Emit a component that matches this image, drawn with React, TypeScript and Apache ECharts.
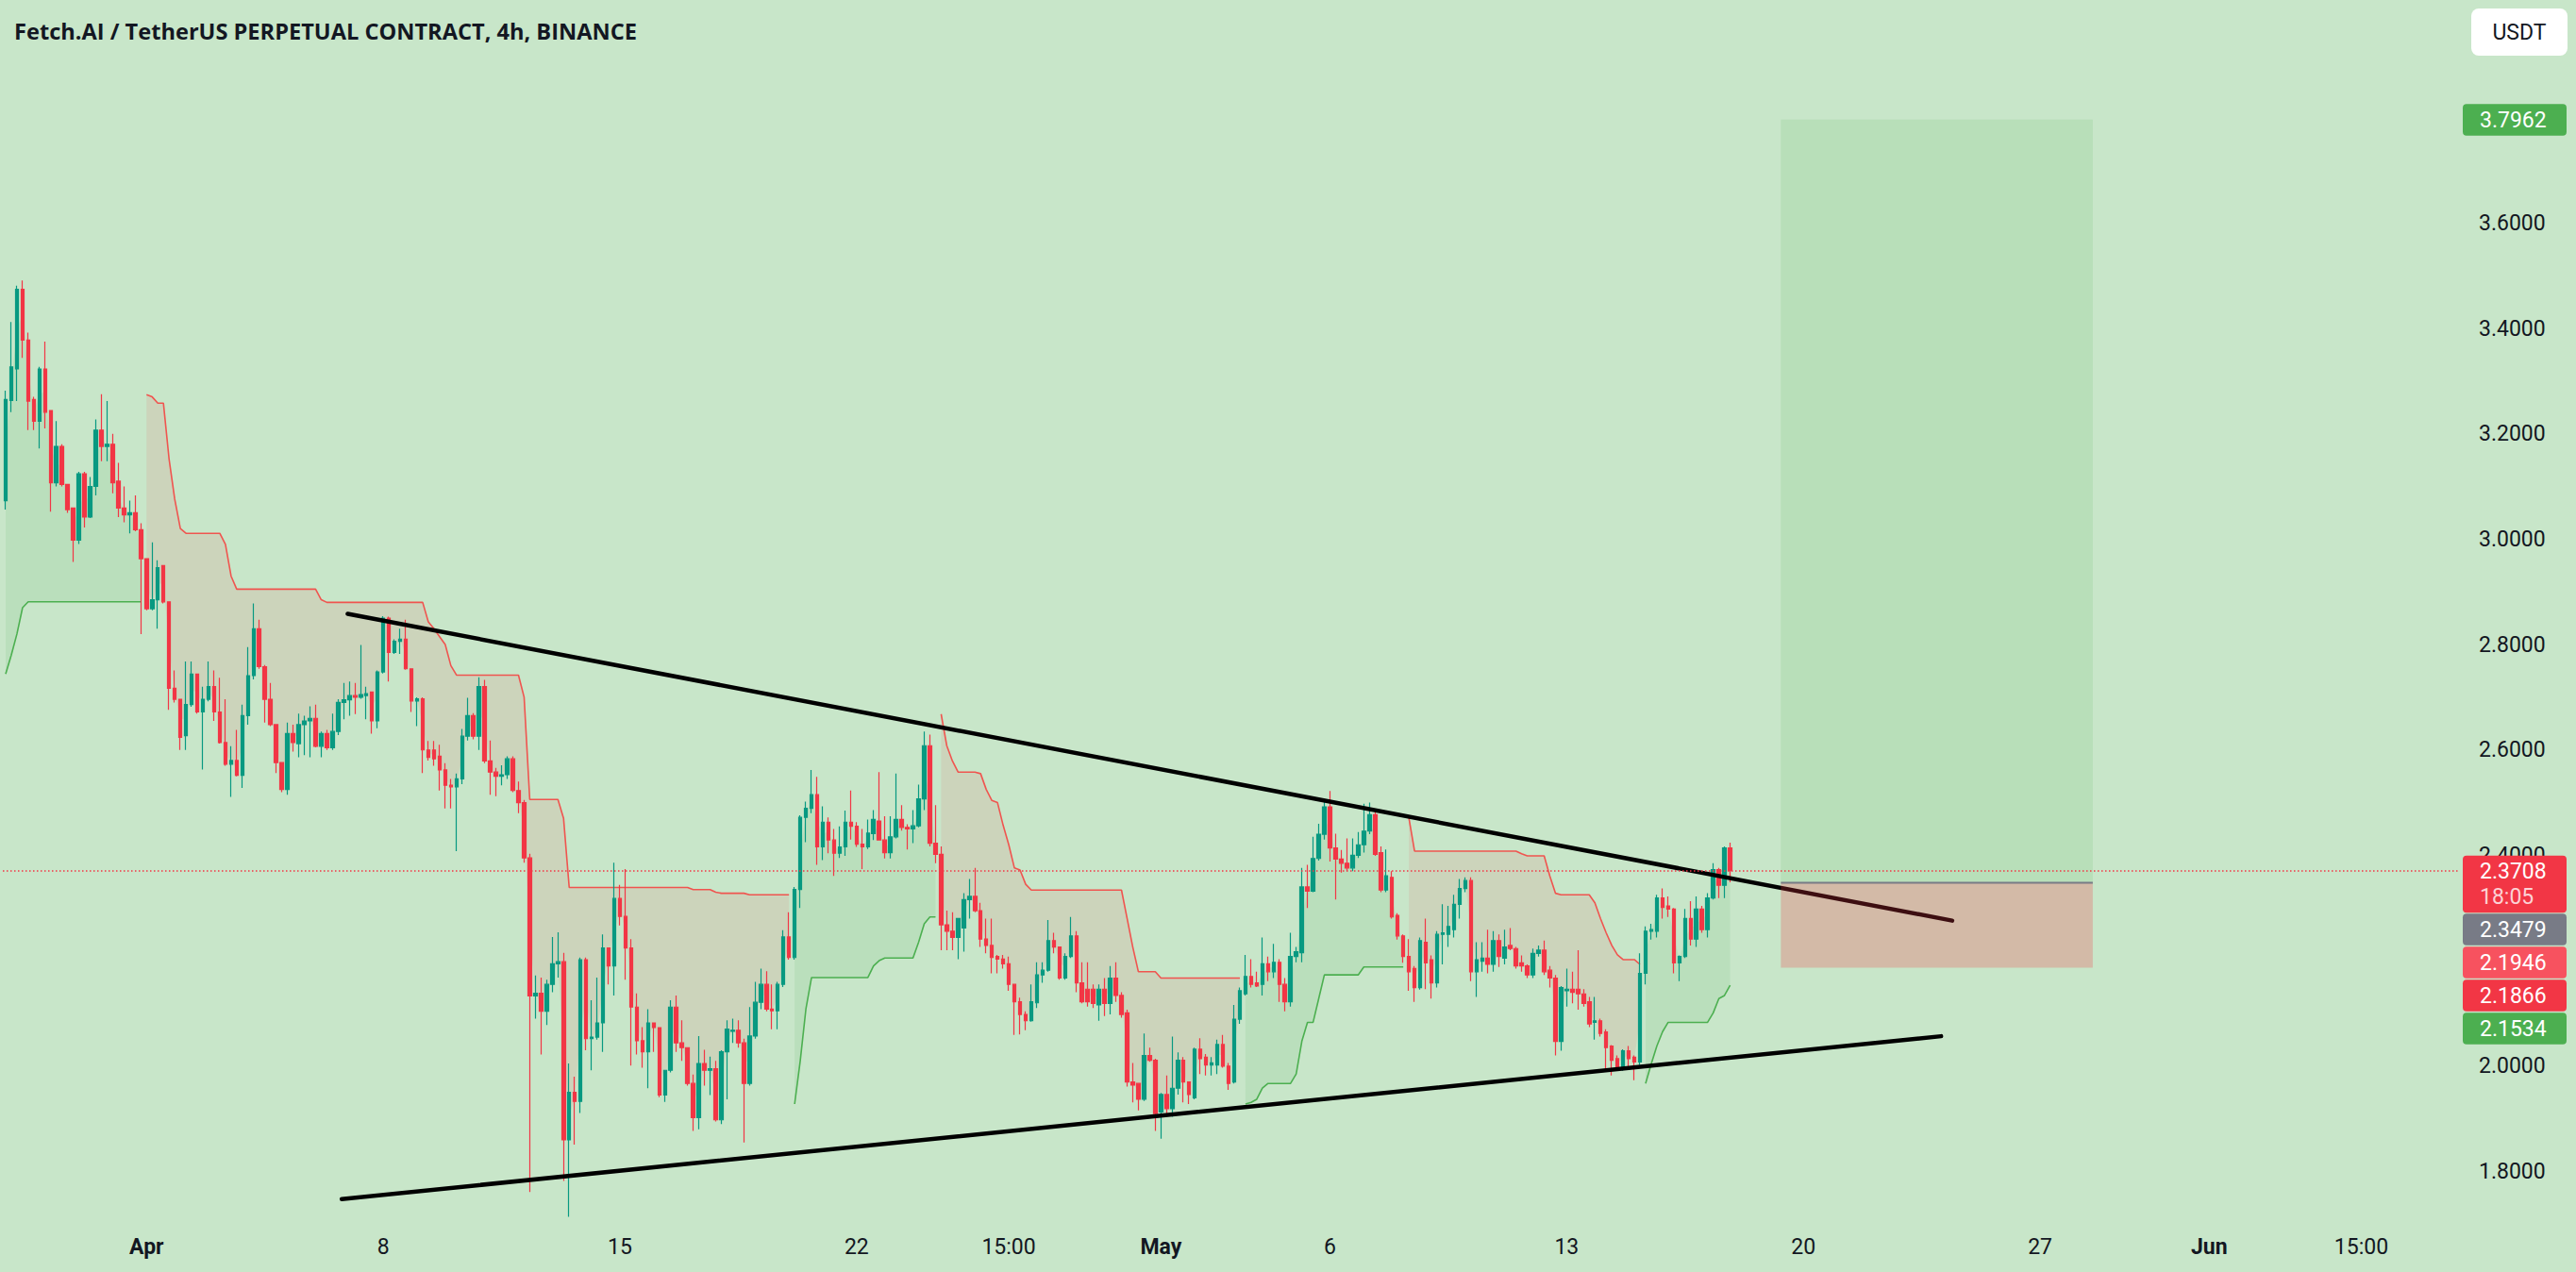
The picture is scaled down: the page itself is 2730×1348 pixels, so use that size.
import React, { useEffect, useRef } from "react";
import * as echarts from "echarts";

const TITLE = "Fetch.AI / TetherUS PERPETUAL CONTRACT, 4h, BINANCE";
const QUOTE = "USDT";

// 4h bars as [open, high, low, close]; bar 0 = Mar 27 23:00, bar 25 = Apr 1 03:00
const candles: number[][] = [
  [3.073,3.282,3.056,3.265],[3.263,3.412,3.241,3.327],[3.323,3.481,3.262,3.474],[3.474,3.491,3.344,3.378],
  [3.378,3.392,3.207,3.262],[3.265,3.270,3.207,3.224],[3.224,3.327,3.172,3.323],[3.323,3.375,3.210,3.241],
  [3.244,3.244,3.052,3.107],[3.107,3.224,3.100,3.176],[3.176,3.180,3.100,3.104],[3.104,3.105,3.050,3.056],
  [3.059,3.060,2.957,2.998],[2.998,3.128,2.991,3.124],[3.124,3.128,3.022,3.042],[3.042,3.118,3.040,3.100],
  [3.100,3.227,3.083,3.207],[3.207,3.275,3.148,3.176],[3.176,3.262,3.148,3.180],[3.180,3.200,3.087,3.107],
  [3.110,3.145,3.042,3.059],[3.059,3.100,3.032,3.046],[3.046,3.073,3.011,3.050],[3.050,3.083,3.015,3.018],
  [3.018,3.030,2.820,2.963],[2.963,2.963,2.865,2.868],[2.868,2.994,2.865,2.885],[2.885,2.960,2.830,2.946],
  [2.950,2.950,2.878,2.881],[2.881,2.881,2.676,2.717],[2.717,2.751,2.690,2.696],[2.696,2.696,2.600,2.624],
  [2.627,2.768,2.600,2.686],[2.686,2.768,2.682,2.744],[2.744,2.744,2.669,2.672],[2.672,2.720,2.563,2.696],
  [2.696,2.768,2.692,2.720],[2.720,2.751,2.655,2.672],[2.672,2.737,2.612,2.614],[2.614,2.696,2.570,2.573],
  [2.573,2.607,2.511,2.580],[2.580,2.638,2.550,2.552],[2.552,2.686,2.528,2.665],[2.665,2.795,2.648,2.741],
  [2.741,2.878,2.734,2.830],[2.830,2.847,2.754,2.758],[2.758,2.761,2.652,2.696],[2.696,2.727,2.645,2.648],
  [2.648,2.648,2.556,2.576],[2.576,2.576,2.520,2.525],[2.525,2.652,2.515,2.631],[2.631,2.648,2.597,2.614],
  [2.612,2.669,2.586,2.648],[2.648,2.665,2.590,2.655],[2.655,2.683,2.586,2.660],[2.660,2.686,2.605,2.607],
  [2.607,2.635,2.586,2.631],[2.631,2.638,2.600,2.604],[2.604,2.669,2.600,2.635],[2.635,2.696,2.628,2.690],
  [2.690,2.727,2.658,2.695],[2.695,2.730,2.665,2.703],[2.703,2.727,2.668,2.700],[2.700,2.799,2.697,2.705],
  [2.703,2.720,2.658,2.707],[2.710,2.710,2.631,2.655],[2.655,2.751,2.641,2.748],[2.748,2.854,2.745,2.850],
  [2.850,2.853,2.730,2.785],[2.785,2.810,2.782,2.806],[2.806,2.830,2.782,2.810],[2.810,2.847,2.752,2.754],
  [2.754,2.754,2.672,2.693],[2.693,2.700,2.645,2.697],[2.697,2.700,2.556,2.600],[2.600,2.617,2.580,2.586],
  [2.600,2.617,2.570,2.583],[2.588,2.610,2.523,2.562],
  // 78 -
  [2.562,2.575,2.489,2.533],[2.533,2.545,2.489,2.530],[2.530,2.555,2.408,2.545],[2.545,2.640,2.535,2.626],
  [2.626,2.699,2.618,2.665],[2.665,2.670,2.620,2.626],[2.626,2.738,2.600,2.720],[2.720,2.733,2.575,2.579],
  [2.579,2.618,2.515,2.558],[2.558,2.566,2.512,2.550],[2.550,2.571,2.533,2.553],[2.553,2.588,2.545,2.583],
  [2.583,2.588,2.520,2.523],[2.523,2.540,2.480,2.500],[2.500,2.505,2.386,2.395],[2.395,2.403,1.761,2.133],
  [2.133,2.172,2.090,2.138],[2.138,2.168,2.022,2.104],[2.104,2.164,2.078,2.155],[2.155,2.245,2.140,2.194],
  [2.194,2.254,2.168,2.198],[2.198,2.215,1.782,1.860],[1.860,2.005,1.714,1.950],[1.950,1.980,1.851,1.933],
  [1.933,2.206,1.911,2.202],[2.202,2.206,2.030,2.052],[2.052,2.125,1.992,2.055],[2.055,2.168,2.050,2.082],
  [2.082,2.250,2.027,2.224],[2.224,2.224,2.155,2.190],[2.190,2.386,2.134,2.318],[2.318,2.344,2.267,2.284],
  [2.284,2.374,2.164,2.224],[2.224,2.241,2.001,2.112],[2.112,2.138,2.022,2.048],[2.048,2.074,1.997,2.027],
  [2.027,2.108,1.958,2.082],[2.082,2.082,2.027,2.073],[2.073,2.073,1.941,1.945],[1.945,1.992,1.932,1.992],
  [1.992,2.125,1.988,2.112],[2.112,2.134,2.027,2.044],[2.044,2.087,2.010,2.035],[2.035,2.035,1.963,1.967],
  [1.967,1.984,1.877,1.902],[1.902,2.057,1.880,2.005],[2.005,2.031,1.963,1.992],[1.992,2.018,1.945,1.995],
  [1.995,2.010,1.895,1.898],[1.898,2.030,1.890,2.027],[2.027,2.087,1.937,2.070],[2.066,2.090,2.044,2.068],
  [2.068,2.087,2.035,2.044],[2.044,2.052,1.855,1.967],[1.967,2.112,1.963,2.057],[2.057,2.160,2.052,2.121],
  [2.121,2.185,2.108,2.155],[2.155,2.180,2.104,2.108],[2.108,2.155,2.070,2.105],[2.105,2.160,2.070,2.155],
  [2.155,2.258,2.150,2.245],[2.245,2.292,2.202,2.206],[2.206,2.340,2.202,2.335],[2.335,2.476,2.300,2.472],
  [2.472,2.502,2.425,2.489],[2.489,2.562,2.480,2.515],[2.515,2.549,2.382,2.416],[2.416,2.493,2.391,2.463],
  [2.463,2.472,2.404,2.429],[2.429,2.450,2.361,2.404],[2.404,2.455,2.395,2.416],[2.416,2.485,2.399,2.463],
  [2.463,2.523,2.430,2.455],[2.455,2.463,2.416,2.421],[2.421,2.450,2.374,2.416],[2.416,2.468,2.412,2.442],
  [2.441,2.486,2.429,2.468],
  // 155 -
  [2.465,2.558,2.429,2.429],[2.429,2.474,2.394,2.405],[2.405,2.474,2.394,2.435],[2.435,2.555,2.432,2.468],
  [2.468,2.495,2.447,2.453],[2.453,2.459,2.411,2.450],[2.450,2.486,2.423,2.456],[2.456,2.534,2.453,2.507],
  [2.507,2.635,2.486,2.608],[2.608,2.629,2.417,2.423],[2.423,2.495,2.385,2.402],[2.402,2.417,2.220,2.268],
  [2.268,2.295,2.220,2.256],[2.256,2.292,2.220,2.244],[2.244,2.280,2.203,2.280],[2.262,2.328,2.217,2.316],
  [2.316,2.355,2.280,2.322],[2.322,2.376,2.292,2.295],[2.295,2.310,2.226,2.241],[2.241,2.280,2.214,2.229],
  [2.229,2.280,2.176,2.206],[2.208,2.211,2.176,2.203],[2.203,2.211,2.185,2.194],[2.194,2.208,2.143,2.155],
  [2.155,2.155,2.059,2.122],[2.122,2.130,2.060,2.098],[2.098,2.104,2.068,2.086],[2.086,2.155,2.084,2.122],
  [2.120,2.197,2.110,2.173],[2.173,2.197,2.158,2.182],[2.182,2.277,2.179,2.238],[2.238,2.253,2.214,2.226],
  [2.226,2.226,2.164,2.167],[2.167,2.214,2.164,2.208],[2.208,2.283,2.205,2.247],[2.247,2.256,2.140,2.158],
  [2.158,2.197,2.119,2.122],[2.146,2.197,2.113,2.122],[2.146,2.155,2.110,2.119],[2.116,2.155,2.086,2.146],
  [2.146,2.167,2.095,2.119],[2.119,2.190,2.098,2.167],[2.167,2.197,2.122,2.134],[2.134,2.140,2.092,2.098],
  [2.101,2.107,1.961,1.970],[1.970,2.006,1.931,1.964],[1.967,1.967,1.916,1.937],[1.937,2.062,1.934,2.020],
  [2.020,2.035,2.008,2.011],[2.011,2.014,1.877,1.910],[1.913,1.949,1.862,1.946],[1.946,1.982,1.907,1.919],
  [1.919,2.056,1.904,1.958],[1.958,2.026,1.946,2.011],[2.011,2.017,1.931,1.970],[1.970,1.970,1.928,1.946],
  [1.940,2.035,1.937,2.032],[2.032,2.053,1.985,2.014],[2.017,2.023,1.982,2.002],[2.002,2.017,1.982,2.006],
  [2.002,2.050,1.985,2.041],[2.041,2.059,1.997,2.000],[2.000,2.006,1.955,1.967],[1.970,2.116,1.967,2.089],
  [2.089,2.149,2.080,2.143],[2.137,2.211,2.134,2.170],[2.170,2.203,2.149,2.155],[2.158,2.179,2.150,2.152],
  [2.155,2.244,2.134,2.194],[2.194,2.208,2.161,2.179],[2.179,2.232,2.167,2.197],[2.197,2.203,2.122,2.155],
  [2.155,2.167,2.104,2.122],[2.122,2.253,2.113,2.208],[2.208,2.226,2.197,2.217],[2.215,2.376,2.197,2.340],
  // 231 -
  [2.340,2.382,2.300,2.332],[2.332,2.435,2.330,2.394],[2.394,2.460,2.390,2.440],[2.440,2.507,2.430,2.492],
  [2.492,2.522,2.388,2.414],[2.414,2.441,2.316,2.393],[2.393,2.410,2.367,2.385],[2.385,2.432,2.370,2.376],
  [2.376,2.432,2.370,2.400],[2.400,2.444,2.395,2.420],[2.420,2.498,2.405,2.446],[2.446,2.500,2.440,2.477],
  [2.477,2.483,2.399,2.402],[2.405,2.417,2.330,2.334],[2.334,2.411,2.330,2.361],[2.358,2.370,2.280,2.283],
  [2.286,2.290,2.240,2.247],[2.247,2.250,2.196,2.208],[2.208,2.241,2.143,2.179],[2.185,2.190,2.122,2.149],
  [2.149,2.244,2.145,2.238],[2.235,2.280,2.146,2.196],[2.202,2.210,2.128,2.158],[2.158,2.256,2.149,2.250],
  [2.250,2.307,2.193,2.253],[2.250,2.304,2.226,2.265],[2.259,2.325,2.244,2.307],[2.307,2.355,2.280,2.337],
  [2.337,2.358,2.330,2.352],[2.352,2.358,2.161,2.179],[2.179,2.235,2.131,2.202],[2.199,2.235,2.179,2.205],
  [2.205,2.259,2.176,2.193],[2.193,2.256,2.179,2.238],[2.238,2.250,2.188,2.208],[2.205,2.259,2.193,2.226],
  [2.229,2.262,2.220,2.223],[2.223,2.226,2.185,2.190],[2.196,2.210,2.179,2.190],[2.190,2.193,2.167,2.173],
  [2.173,2.223,2.167,2.214],[2.214,2.229,2.208,2.220],[2.220,2.238,2.173,2.179],[2.182,2.190,2.149,2.167],
  [2.167,2.173,2.020,2.047],[2.047,2.152,2.029,2.149],[2.143,2.185,2.113,2.146],[2.146,2.179,2.119,2.140],
  [2.146,2.220,2.107,2.137],[2.137,2.146,2.113,2.119],[2.122,2.131,2.074,2.080],[2.083,2.131,2.050,2.086],
  [2.086,2.090,2.056,2.062],[2.065,2.070,1.994,2.035],[2.038,2.040,1.982,2.011],[2.014,2.020,1.991,1.999],
  [1.999,2.032,1.991,2.029],[2.029,2.038,1.994,2.014],[2.017,2.020,1.973,2.008],[2.008,2.214,2.002,2.176],
  [2.176,2.265,2.155,2.256],[2.256,2.270,2.240,2.259],[2.256,2.325,2.244,2.319],[2.319,2.337,2.280,2.301],
  [2.304,2.322,2.283,2.298],[2.298,2.300,2.176,2.196],[2.196,2.210,2.161,2.208],[2.208,2.298,2.205,2.280],
  [2.280,2.313,2.229,2.241],[2.241,2.322,2.226,2.298],[2.298,2.304,2.253,2.259],[2.259,2.328,2.244,2.319],
  [2.319,2.385,2.316,2.373],[2.373,2.376,2.319,2.343],[2.343,2.417,2.319,2.414],[2.414,2.424,2.349,2.3708],
];

// Supertrend runs: [first bar, values...]
const stUpRuns: [number, number[]][] = [
  [0, [2.744,2.78,2.82,2.87,2.881,2.881,2.881,2.881,2.881,2.881,2.881,2.881,2.881,2.881,2.881,2.881,2.881,2.881,2.881,2.881,2.881,2.881,2.881,2.881,2.881]],
  [140, [1.928,2.010,2.108,2.168,2.168,2.168,2.168,2.168,2.168,2.168,2.168,2.168,2.168,2.168,2.190,2.200,2.205,2.205,2.205,2.205,2.205,2.205,2.235,2.270,2.283,2.283]],
  [220, [1.928,1.931,1.937,1.958,1.967,1.967,1.967,1.967,1.967,1.985,2.047,2.083,2.083,2.128,2.173,2.173,2.173,2.173,2.173,2.173,2.173,2.188,2.188,2.188,2.188,2.188,2.188,2.188,2.188]],
  [291, [1.967,2.004,2.038,2.065,2.083,2.083,2.083,2.083,2.083,2.083,2.083,2.083,2.101,2.128,2.134,2.1534]],
];
const stDownRuns: [number, number[]][] = [
  [25, [3.274,3.270,3.258,3.258,3.152,3.076,3.020,3.011,3.011,3.011,3.011,3.011,3.011,3.011,2.990,2.930,
    2.905,2.905,2.905,2.905,2.905,2.905,2.905,2.905,2.905,2.905,2.905,2.905,2.905,2.905,2.905,2.885,
    2.880,2.880,2.880,2.880,2.880,2.880,2.880,2.880,2.880,2.880,2.880,2.880,2.880,2.880,2.880,2.880,2.880,2.880,
    2.843,2.830,2.815,2.800,2.760,2.742,2.742,2.742,2.742,2.742,2.742,2.742,2.742,2.742,2.742,2.742,2.742,
    2.700,2.506,2.506,2.506,2.506,2.506,2.506,2.470,
    2.339,2.339,2.339,2.339,2.339,2.339,2.339,2.339,2.339,2.339,2.339,2.339,2.339,2.339,2.339,2.339,2.339,2.339,2.339,2.339,2.339,2.339,
    2.335,2.335,2.335,2.335,2.330,2.328,2.328,2.328,2.328,2.328,2.325,2.325,2.325,2.325,2.325,2.325,2.325,2.325]],
  [166, [2.668,2.608,2.579,2.558,2.558,2.558,2.558,2.555,2.525,2.504,2.500,2.457,2.420,2.376,2.372,2.345,
    2.334,2.334,2.334,2.334,2.334,2.334,2.334,2.334,2.334,2.334,2.334,2.334,2.334,2.334,2.334,2.334,2.334,
    2.280,2.226,2.179,2.179,2.179,2.179,2.167,2.167,2.167,2.167,2.167,2.167,2.167,2.167,2.167,2.167,2.167,2.167,2.167,2.167,2.167]],
  [249, [2.471,2.408,2.408,2.408,2.408,2.408,2.408,2.408,2.408,2.408,2.408,2.408,2.408,2.408,2.408,2.408,2.408,2.408,2.408,2.408,
    2.403,2.399,2.399,2.399,2.399,2.361,2.328,2.325,2.325,2.325,2.325,2.325,2.325,2.310,2.280,2.253,2.229,2.211,2.202,2.202,2.202,2.193]],
];

const LAST_PRICE = 2.3708;
const COUNTDOWN = "18:05";
// Long position tool
const POS_START = 315.0;
const POS_END = 370.35;
const POS_ENTRY = 2.3479;
const POS_TARGET = 3.7962;
const POS_STOP = 2.1866;
// Trendlines [bar, price]
const upperTrend = [[60.69, 2.8583], [345.4, 2.2761]];
const lowerTrend = [[59.64, 1.7476], [343.44, 2.0567]];
// Scale-side tags under the last price
const sideTags = [
  { text: "2.3479", color: "#787B86" },
  { text: "2.1946", color: "#F7525F" },
  { text: "2.1866", color: "#F23645" },
  { text: "2.1534", color: "#4CAF50" },
];
const xLabelBars = [25, 67, 109, 151, 178, 205, 235, 277, 319, 361, 391, 418];
const xLabelTexts = ["Apr", "8", "15", "22", "15:00", "May", "6", "13", "20", "27", "Jun", "15:00"];
const xLabelBold = ["Apr", "May", "Jun"];
// 2.2000 and 3.8000 sit fully under the scale tags, so only these show
const yTicks = [1.8, 2.0, 2.4, 2.6, 2.8, 3.0, 3.2, 3.4, 3.6];
const X_MIN = -0.5, X_MAX = 435.5, Y_MIN = 1.7077, Y_MAX = 4.0232;

const BG = "#c8e6c9";
const UP = "#089981";
const DOWN = "#F23645";
const TXT = "#131722";
const FONT = "Roboto";

function expand(runs: [number, number[]][], n: number): (number | null)[] {
  const out: (number | null)[] = new Array(n).fill(null);
  runs.forEach(([s, vals]) => vals.forEach((v, k) => { out[s + k] = v; }));
  return out;
}

export default function App() {
  const ref = useRef<HTMLDivElement>(null);
  useEffect(() => {
    if (!ref.current) return;
    const chart = echarts.init(ref.current, undefined, { renderer: "svg" });
    const n = candles.length;
    const stUp = expand(stUpRuns, n);
    const stDown = expand(stDownRuns, n);
    const mids = candles.map((c) => (c[0] + c[3]) / 2);
    const segs: { s: number; e: number; up: boolean }[] = [];
    stUpRuns.forEach(([s, v]) => segs.push({ s, e: s + v.length - 1, up: true }));
    stDownRuns.forEach(([s, v]) => segs.push({ s, e: s + v.length - 1, up: false }));

    const rectSeries = (y1: number, y2: number, fill: string, z: number) => ({
      type: "custom",
      silent: true,
      z,
      data: [[POS_START, y1, POS_END, y2]],
      encode: { x: [0, 2], y: [1, 3] },
      renderItem: (_p: any, api: any) => {
        const a = api.coord([api.value(0), api.value(1)]);
        const b = api.coord([api.value(2), api.value(3)]);
        return {
          type: "rect",
          shape: { x: Math.min(a[0], b[0]), y: Math.min(a[1], b[1]), width: Math.abs(b[0] - a[0]), height: Math.abs(b[1] - a[1]) },
          style: { fill },
        };
      },
    });

    chart.setOption({
      animation: false,
      backgroundColor: BG,
      grid: { left: 3, right: 123, top: 0, bottom: 55 },
      xAxis: {
        type: "value", min: X_MIN, max: X_MAX,
        axisLine: { show: false }, axisTick: { show: false }, splitLine: { show: false },
        axisLabel: {
          customValues: xLabelBars,
          margin: 17,
          color: TXT, fontSize: 23, fontFamily: FONT,
          formatter: (v: number) => {
            const t = xLabelTexts[xLabelBars.indexOf(Math.round(v))] ?? "";
            return xLabelBold.includes(t) ? `{b|${t}}` : t;
          },
          rich: { b: { fontWeight: "bold", fontSize: 23, fontFamily: FONT, color: TXT } },
        },
      },
      yAxis: {
        type: "value", position: "right", min: Y_MIN, max: Y_MAX, scale: true,
        axisLine: { show: false }, axisTick: { show: false }, splitLine: { show: false },
        axisLabel: {
          customValues: yTicks, align: "left", margin: 20,
          color: TXT, fontSize: 23, fontFamily: FONT,
          formatter: (v: number) => v.toFixed(4),
        },
      },
      series: [
        {
          type: "custom", silent: true, z: 1,
          data: segs.map((g) => [g.s, mids[g.s]]),
          encode: { x: 0, y: 1 },
          renderItem: (p: any, api: any) => {
            const g = segs[p.dataIndex];
            const line = g.up ? stUp : stDown;
            const pts: number[][] = [];
            for (let i = g.s; i <= g.e; i++) pts.push(api.coord([i, line[i]]));
            for (let i = g.e; i >= g.s; i--) pts.push(api.coord([i, mids[i]]));
            return { type: "polygon", shape: { points: pts }, style: { fill: g.up ? "rgba(76,175,80,0.11)" : "rgba(242,54,69,0.1)" } };
          },
        },
        {
          type: "line", silent: true, z: 2, showSymbol: false, connectNulls: false,
          data: stUp.map((v, i) => [i, v == null ? "-" : v]),
          lineStyle: { color: "#4CAF50", width: 1.6 },
        },
        {
          type: "line", silent: true, z: 2, showSymbol: false, connectNulls: false,
          data: stDown.map((v, i) => [i, v == null ? "-" : v]),
          lineStyle: { color: "#F0544F", width: 1.6 },
        },
        {
          type: "candlestick", z: 3, barWidth: 4,
          data: candles.map((c, i) => [i, c[0], c[3], c[2], c[1]]),
          itemStyle: { color: UP, color0: DOWN, borderColor: UP, borderColor0: DOWN, borderWidth: 1.2 },
          markLine: {
            silent: true, symbol: ["none", "none"], label: { show: false }, z: 6,
            lineStyle: { color: DOWN, type: [1.5, 2.5], width: 1.6 },
            data: [{ yAxis: LAST_PRICE }],
          },
        },
        {
          type: "line", silent: true, z: 4, showSymbol: false, data: upperTrend,
          lineStyle: { color: "#000", width: 4.5, cap: "round" },
        },
        {
          type: "line", silent: true, z: 4, showSymbol: false, data: lowerTrend,
          lineStyle: { color: "#000", width: 4.5, cap: "round" },
        },
        rectSeries(POS_ENTRY, POS_TARGET, "rgba(76,175,80,0.13)", 5),
        rectSeries(POS_STOP, POS_ENTRY, "rgba(242,54,69,0.25)", 5),
        {
          type: "line", silent: true, z: 6, showSymbol: false,
          data: [[POS_START, POS_ENTRY], [POS_END, POS_ENTRY]],
          lineStyle: { color: "#787B86", width: 2 },
        },
      ],
    });

    const yOf = (p: number) => chart.convertToPixel({ yAxisIndex: 0 }, p) as number;
    const TAG_X = 2610, TAG_W = 110, TEXT_X = 2628, TAG_H = 33.5, PITCH = 35;
    const g: any[] = [];
    g.push({ type: "text", x: 15, y: 33, z: 10, style: { text: TITLE, fill: TXT, fontSize: 23.6, fontWeight: "bold", fontFamily: "Open Sans", verticalAlign: "middle" } });
    g.push({ type: "rect", z: 10, shape: { x: 2619, y: 9, width: 102, height: 50, r: 8 }, style: { fill: "#ffffff" } });
    g.push({ type: "text", z: 11, x: 2670, y: 34, style: { text: QUOTE, fill: TXT, fontSize: 23, fontFamily: FONT, align: "center", verticalAlign: "middle" } });
    const yT = yOf(POS_TARGET);
    g.push({ type: "rect", z: 10, shape: { x: TAG_X, y: yT - 16.5, width: TAG_W, height: TAG_H, r: 4 }, style: { fill: "#4CAF50" } });
    g.push({ type: "text", z: 11, x: TEXT_X, y: yT + 0.5, style: { text: POS_TARGET.toFixed(4), fill: "#fff", fontSize: 23, fontFamily: FONT, verticalAlign: "middle" } });
    const yL = yOf(LAST_PRICE);
    const top = yL - 16;
    g.push({ type: "rect", z: 10, shape: { x: TAG_X, y: top, width: TAG_W, height: 60.5, r: 4 }, style: { fill: DOWN } });
    g.push({ type: "text", z: 11, x: TEXT_X, y: yL + 0.5, style: { text: LAST_PRICE.toFixed(4), fill: "#fff", fontSize: 23, fontFamily: FONT, verticalAlign: "middle" } });
    g.push({ type: "text", z: 11, x: TEXT_X, y: yL + 28, style: { text: COUNTDOWN, fill: "rgba(255,255,255,0.78)", fontSize: 23, fontFamily: FONT, verticalAlign: "middle" } });
    let t = top + 61.5;
    sideTags.forEach((s) => {
      g.push({ type: "rect", z: 10, shape: { x: TAG_X, y: t, width: TAG_W, height: TAG_H, r: 4 }, style: { fill: s.color } });
      g.push({ type: "text", z: 11, x: TEXT_X, y: t + TAG_H / 2 + 0.5, style: { text: s.text, fill: "#fff", fontSize: 23, fontFamily: FONT, verticalAlign: "middle" } });
      t += PITCH;
    });
    chart.setOption({ graphic: g });

    return () => chart.dispose();
  }, []);
  return (
    <div
      ref={ref}
      style={{ position: "fixed", left: 0, top: 0, width: 2730, height: 1348, background: BG }}
    />
  );
}
